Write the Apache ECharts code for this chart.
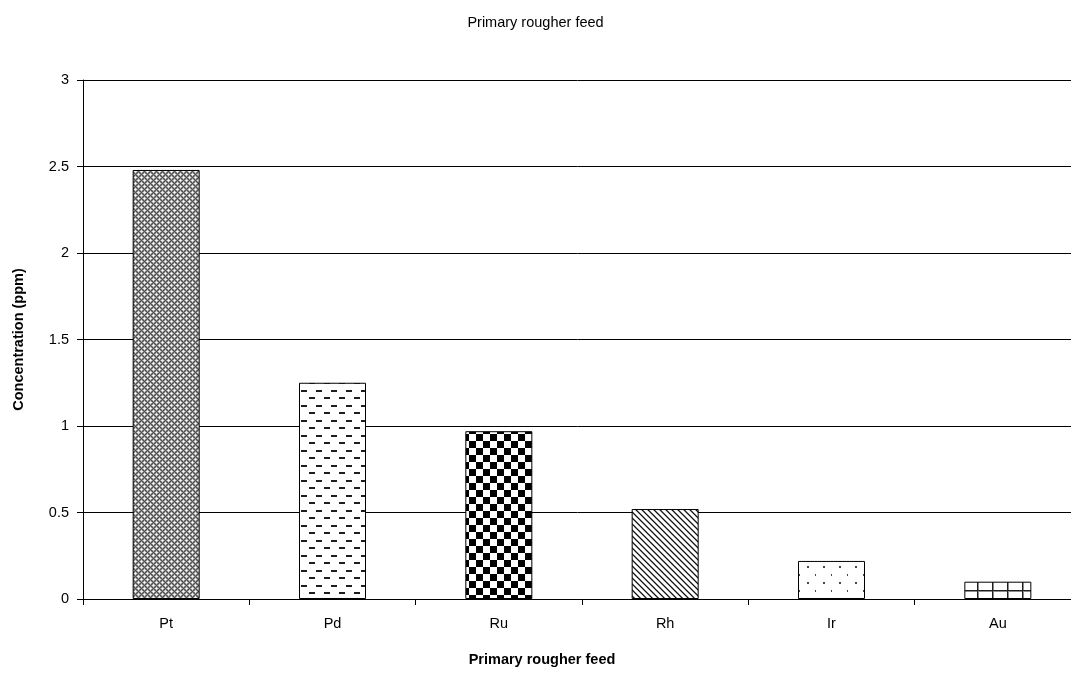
<!DOCTYPE html>
<html>
<head>
<meta charset="utf-8">
<title>Primary rougher feed</title>
<script src="https://cdn.jsdelivr.net/npm/echarts@6/dist/echarts.min.js"></script>
<style>
  html, body { margin: 0; padding: 0; background: #fff; }
  #chart { width: 1071px; height: 677px; }
</style>
</head>
<body>
<div id="chart"></div>
<script>
// Element concentrations in the primary rougher feed
const elements = ['Pt', 'Pd', 'Ru', 'Rh', 'Ir', 'Au'];
const concentrations = [2.48, 1.25, 0.97, 0.52, 0.22, 0.10];
const yTicks = [0, 0.5, 1, 1.5, 2, 2.5, 3];

// Build a small tiled fill image; shade(x, y) returns a grey level or null (white)
function tile(w, h, shade) {
  const c = document.createElement('canvas');
  c.width = w; c.height = h;
  const ctx = c.getContext('2d');
  const img = ctx.createImageData(w, h);
  for (let y = 0; y < h; y++) {
    for (let x = 0; x < w; x++) {
      const v = shade(x, y);
      const g = v == null ? 255 : v;
      const i = (y * w + x) * 4;
      img.data[i] = g; img.data[i + 1] = g; img.data[i + 2] = g; img.data[i + 3] = 255;
    }
  }
  ctx.putImageData(img, 0, 0);
  return c;
}

const mod = (a, n) => ((a % n) + n) % n;

const fills = [
  // Pt: fine diamond lattice
  tile(6, 6, (x, y) => {
    const d = Math.min(
      Math.abs(mod(x + 3, 6) - 3) + Math.abs(mod(y + 3, 6) - 3),
      Math.abs(mod(x, 6) - 3) + Math.abs(mod(y, 6) - 3)
    );
    return [255, 225, 140, 80][Math.min(d, 3)];
  }),
  // Pd: staggered horizontal dashes
  tile(15, 15, (x, y) => {
    if ((y === 0 || y === 1) && x >= 1 && x <= 6) return 30;
    if ((y === 7 || y === 8) && x >= 9 && x <= 14) return 30;
    return null;
  }),
  // Ru: checkerboard
  tile(14, 14, (x, y) => ((Math.floor(x / 7) + Math.floor(y / 7)) % 2 === 0 ? 0 : null)),
  // Rh: downward diagonal stripes
  tile(6, 6, (x, y) => {
    const k = mod(x - y, 6);
    if (k === 0) return 20;
    if (k === 1) return 120;
    if (k === 5) return 190;
    return null;
  }),
  // Ir: sparse staggered dots
  tile(16, 16, (x, y) => {
    const on = (px, py) => (x === px || x === px + 1) && (y === py || y === py + 1);
    return on(7, 6) || on(15, 14) ? 70 : null;
  }),
  // Au: square grid
  tile(15, 15, (x, y) => {
    if (x === 2 || y === 5) return 30;
    if (x === 3 || y === 6) return 140;
    return null;
  })
];

const barData = concentrations.map((v, i) => ({
  value: v,
  itemStyle: {
    color: { image: fills[i], repeat: 'repeat' },
    borderColor: '#000',
    borderWidth: 1
  }
}));

const font = 'Arial, "Liberation Sans", sans-serif';

const chart = echarts.init(document.getElementById('chart'), null, { renderer: 'canvas' });
chart.setOption({
  animation: false,
  backgroundColor: '#fff',
  title: {
    text: 'Primary rougher feed',
    left: 'center',
    top: 10,
    textStyle: { fontFamily: font, fontSize: 14.5, fontWeight: 'normal', color: '#000' }
  },
  // the plot runs past the right edge of the canvas
  grid: {
    left: 83, top: 80, width: 998, bottom: 78,
    containLabel: false, outerBoundsMode: 'none'
  },
  xAxis: {
    type: 'category',
    data: elements,
    name: 'Primary rougher feed',
    nameLocation: 'middle',
    nameGap: 53,
    nameTextStyle: {
      fontFamily: font, fontSize: 14.5, fontWeight: 'bold', color: '#000',
      padding: [0, 80, 0, 0]
    },
    axisLine: { show: true, lineStyle: { color: '#000', width: 1 } },
    axisTick: { show: true, alignWithLabel: false, length: 6, lineStyle: { color: '#000' } },
    axisLabel: { margin: 17, fontFamily: font, fontSize: 14.5, color: '#000' },
    splitLine: { show: false }
  },
  yAxis: {
    type: 'value',
    min: yTicks[0],
    max: yTicks[yTicks.length - 1],
    interval: yTicks[1] - yTicks[0],
    name: 'Concentration (ppm)',
    nameLocation: 'middle',
    nameGap: 57,
    nameTextStyle: { fontFamily: font, fontSize: 14.5, fontWeight: 'bold', color: '#000' },
    axisLine: { show: true, lineStyle: { color: '#000', width: 1 } },
    axisTick: { show: true, inside: false, length: 6, lineStyle: { color: '#000' } },
    axisLabel: {
      margin: 14, fontFamily: font, fontSize: 14.5, color: '#000',
      formatter: v => String(v)
    },
    splitLine: { show: true, lineStyle: { color: '#000', width: 1 } }
  },
  series: [{
    type: 'bar',
    data: barData,
    barWidth: 67,
    emphasis: { disabled: true }
  }]
});
</script>
</body>
</html>
